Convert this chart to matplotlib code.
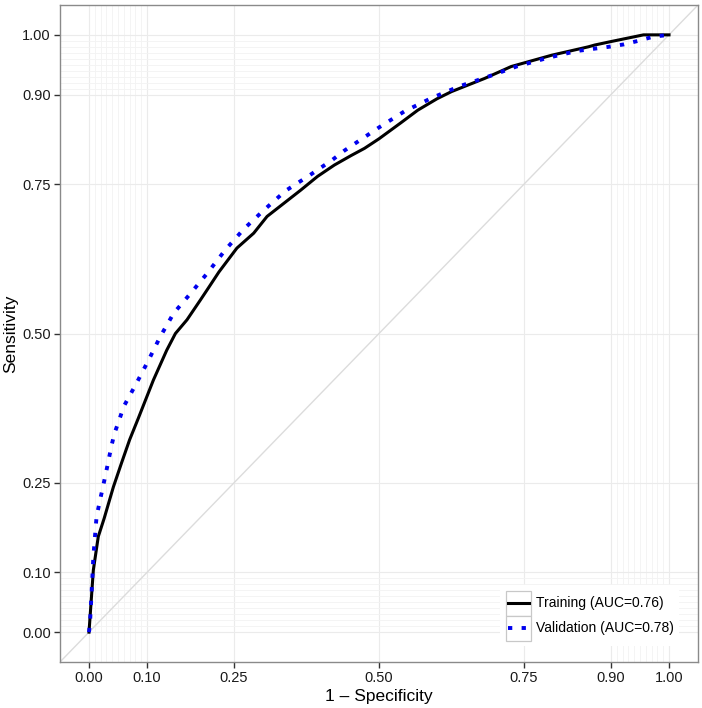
import numpy as np
import matplotlib
matplotlib.use("Agg")
import matplotlib.pyplot as plt
from matplotlib.legend_handler import HandlerBase
from matplotlib.lines import Line2D
from matplotlib.patches import Rectangle

plt.rcParams['font.family'] = ['Liberation Sans', 'DejaVu Sans']

# ROC curves (1 - specificity, sensitivity)
train_fpr = [0.0, 0.0075, 0.016, 0.026, 0.042, 0.056, 0.070, 0.085, 0.111, 0.134,
             0.149, 0.169, 0.192, 0.205, 0.224, 0.255, 0.284, 0.307, 0.336, 0.365,
             0.394, 0.423, 0.452, 0.475, 0.500, 0.538, 0.567, 0.600, 0.625, 0.682,
             0.728, 0.798, 0.861, 0.872, 0.901, 0.956, 1.0]
train_tpr = [0.0, 0.104, 0.160, 0.190, 0.243, 0.283, 0.322, 0.358, 0.422, 0.472,
             0.500, 0.523, 0.556, 0.575, 0.603, 0.643, 0.668, 0.696, 0.718, 0.740,
             0.763, 0.782, 0.798, 0.810, 0.826, 0.853, 0.874, 0.893, 0.905, 0.927,
             0.947, 0.966, 0.980, 0.983, 0.989, 1.0, 1.0]

valid_fpr = [0.0, 0.002, 0.005, 0.0075, 0.013, 0.019, 0.024, 0.031, 0.039, 0.044,
             0.052, 0.060, 0.082, 0.103, 0.123, 0.146, 0.175, 0.204, 0.235, 0.267,
             0.302, 0.339, 0.379, 0.420, 0.440, 0.500, 0.544, 0.590, 0.639, 0.688,
             0.737, 0.789, 0.841, 0.896, 0.922, 0.947, 0.973, 1.0]
valid_tpr = [0.0, 0.020, 0.076, 0.126, 0.193, 0.221, 0.243, 0.275, 0.313, 0.333,
             0.355, 0.378, 0.417, 0.456, 0.495, 0.534, 0.567, 0.601, 0.640, 0.675,
             0.707, 0.739, 0.764, 0.791, 0.806, 0.845, 0.872, 0.894, 0.914, 0.930,
             0.947, 0.961, 0.973, 0.980, 0.984, 0.990, 0.997, 1.0]

labels = ['Training (AUC=0.76)', 'Validation (AUC=0.78)']
breaks = [0, 0.1, 0.25, 0.5, 0.75, 0.9, 1.0]
break_labels = ['0.00', '0.10', '0.25', '0.50', '0.75', '0.90', '1.00']
minor_breaks = list(np.arange(0, 0.1001, 0.01)) + list(np.arange(0.9, 1.0001, 0.01))


class BoxedHandler(HandlerBase):
    # ggplot-like legend key: grey bordered square with the line across it
    def create_artists(self, legend, orig_handle, xdescent, ydescent, width, height, fontsize, trans):
        box = Rectangle((-xdescent, -ydescent), width, height, facecolor='white',
                        edgecolor='#c8c8c8', linewidth=0.9, transform=trans)
        yc = -ydescent + height / 2
        line = Line2D([-xdescent + 0.1 * width, -xdescent + 0.92 * width], [yc, yc])
        self.update_prop(line, orig_handle, legend)
        line.set_transform(trans)
        return [box, line]


fig = plt.figure(figsize=(7.02, 7.08), dpi=100)
ax = fig.add_axes([60 / 702, (708 - 662) / 708, 638 / 702, 657 / 708])

ax.set_xlim(-0.05, 1.05)
ax.set_ylim(-0.05, 1.05)
ax.set_xticks(breaks)
ax.set_xticklabels(break_labels)
ax.set_yticks(breaks)
ax.set_yticklabels(break_labels)
ax.set_xticks(minor_breaks, minor=True)
ax.set_yticks(minor_breaks, minor=True)

ax.grid(which='major', color='#ebebeb', linewidth=0.8, zorder=0)
ax.grid(which='minor', color='#f3f3f3', linewidth=0.6, zorder=0)
ax.set_axisbelow(True)
ax.tick_params(which='minor', length=0)
ax.tick_params(which='major', length=4, width=1.0, color='#333333', pad=2.5,
               labelsize=10.5, labelcolor='#1a1a1a')

for s in ax.spines.values():
    s.set_color('#8a8a8a')
    s.set_linewidth(1.0)

ax.axline((0, 0), (1, 1), color='#dcdcdc', linewidth=1.0, zorder=1)

l1, = ax.plot(train_fpr, train_tpr, color='black', linewidth=2.2,
              solid_joinstyle='round', label=labels[0], zorder=3)
l2, = ax.plot(valid_fpr, valid_tpr, color='#0000ee', linewidth=2.8,
              linestyle=(0, (1.1, 2.4)), dash_capstyle='butt', label=labels[1], zorder=4)

ax.set_xlabel('1 \u2013 Specificity', fontsize=12.5, va='center')
ax.set_ylabel('Sensitivity', fontsize=12.5, va='center')
ax.xaxis.set_label_coords(0.5, (662 - 697) / 657)
ax.yaxis.set_label_coords((10.5 - 60) / 638, 0.5)

leg = ax.legend(handles=[l1, l2], loc='lower left', bbox_to_anchor=(0.690, 0.024),
                borderaxespad=0, borderpad=0.4, fontsize=10, frameon=True,
                fancybox=False, edgecolor='none', facecolor='white', framealpha=1,
                handlelength=1.85, handleheight=2.39, labelspacing=0, handletextpad=0.3,
                handler_map={l1: BoxedHandler(), l2: BoxedHandler()})

fig.savefig('out.png', dpi=100)
